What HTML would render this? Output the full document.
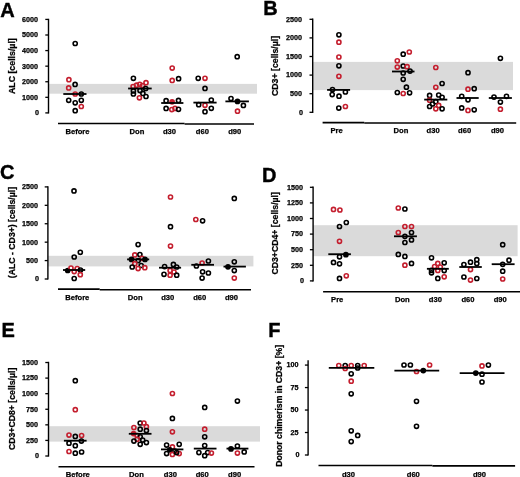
<!DOCTYPE html>
<html><head><meta charset="utf-8"><title>Figure</title>
<style>
html,body{margin:0;padding:0;background:#fff;}
body{width:520px;height:477px;overflow:hidden;}
svg{display:block;will-change:transform;}
text{font-family:"Liberation Sans",sans-serif;font-weight:bold;fill:#000;stroke:#000;stroke-width:0.25px;}
.tk{font-size:7.2px;text-anchor:end;}
.ct{font-size:7.6px;text-anchor:middle;}
.yl{font-size:8.2px;text-anchor:middle;}
.lt{font-size:20px;stroke-width:0.4px;}
circle{fill:none;stroke-width:1.6;}
</style></head>
<body>
<svg width="520" height="477" viewBox="0 0 520 477">
<rect width="520" height="477" fill="#fff"/>
<rect x="48.5" y="83.9" width="208.5" height="9.8" fill="#dadada"/>
<line x1="48.5" y1="18.8" x2="48.5" y2="113.5" stroke="#000" stroke-width="1.4"/>
<line x1="45.3" y1="112.9" x2="48.5" y2="112.9" stroke="#000" stroke-width="1.3"/>
<text x="38.9" y="115.25" class="tk">0</text>
<line x1="45.3" y1="97.32" x2="48.5" y2="97.32" stroke="#000" stroke-width="1.3"/>
<text x="38" y="99.67" class="tk">1000</text>
<line x1="45.3" y1="81.74" x2="48.5" y2="81.74" stroke="#000" stroke-width="1.3"/>
<text x="38" y="84.09" class="tk">2000</text>
<line x1="45.3" y1="66.16" x2="48.5" y2="66.16" stroke="#000" stroke-width="1.3"/>
<text x="38" y="68.51" class="tk">3000</text>
<line x1="45.3" y1="50.58" x2="48.5" y2="50.58" stroke="#000" stroke-width="1.3"/>
<text x="38" y="52.93" class="tk">4000</text>
<line x1="45.3" y1="35" x2="48.5" y2="35" stroke="#000" stroke-width="1.3"/>
<text x="38" y="37.35" class="tk">5000</text>
<line x1="45.3" y1="19.42" x2="48.5" y2="19.42" stroke="#000" stroke-width="1.3"/>
<text x="38" y="21.77" class="tk">6000</text>
<text class="yl" transform="translate(14.9,66.15) rotate(-90)" x="0" y="0" textLength="55.9" lengthAdjust="spacingAndGlyphs">ALC [cells/µl]</text>
<text class="lt" x="0.2" y="17.4">A</text>
<line x1="58" y1="123.45" x2="184.6" y2="123.45" stroke="#000" stroke-width="1.6"/>
<line x1="184.6" y1="123.95" x2="254" y2="123.95" stroke="#000" stroke-width="1.6"/>
<text class="ct" x="77.5" y="134.3">Before</text>
<text class="ct" x="137" y="134.3">Don</text>
<text class="ct" x="169.5" y="134.3">d30</text>
<text class="ct" x="202.4" y="134.3">d60</text>
<text class="ct" x="234.7" y="134.3">d90</text>
<circle cx="75.2" cy="43.5" r="2.05" stroke="#000"/>
<circle cx="68.9" cy="79.7" r="2.05" stroke="#c41e2e"/>
<circle cx="75.1" cy="84.4" r="2.05" stroke="#000"/>
<circle cx="68.7" cy="87.9" r="2.05" stroke="#c41e2e"/>
<circle cx="75.2" cy="94" r="2.05" stroke="#c41e2e"/>
<circle cx="81.3" cy="94" r="2.05" stroke="#000"/>
<circle cx="68.7" cy="100.3" r="2.05" stroke="#000"/>
<circle cx="75.2" cy="102.8" r="2.05" stroke="#000"/>
<circle cx="81.3" cy="100.3" r="2.05" stroke="#000"/>
<circle cx="81.3" cy="106.5" r="2.05" stroke="#c41e2e"/>
<circle cx="75.2" cy="110.7" r="2.05" stroke="#000"/>
<circle cx="133.4" cy="78.3" r="2.05" stroke="#000"/>
<circle cx="146" cy="82.7" r="2.05" stroke="#c41e2e"/>
<circle cx="133.1" cy="86.5" r="2.05" stroke="#c41e2e"/>
<circle cx="136.6" cy="85.2" r="2.05" stroke="#c41e2e"/>
<circle cx="139.7" cy="84.3" r="2.05" stroke="#c41e2e"/>
<circle cx="142.6" cy="85.5" r="2.05" stroke="#c41e2e"/>
<circle cx="145.7" cy="88.5" r="2.05" stroke="#000"/>
<circle cx="133.4" cy="90.9" r="2.05" stroke="#000"/>
<circle cx="133.4" cy="94" r="2.05" stroke="#000"/>
<circle cx="140" cy="90.6" r="2.05" stroke="#000"/>
<circle cx="142.9" cy="93.4" r="2.05" stroke="#000"/>
<circle cx="146" cy="96.5" r="2.05" stroke="#000"/>
<circle cx="139.4" cy="97.8" r="2.05" stroke="#c41e2e"/>
<circle cx="172.2" cy="68.1" r="2.05" stroke="#c41e2e"/>
<circle cx="172.2" cy="80.4" r="2.05" stroke="#c41e2e"/>
<circle cx="178.6" cy="78.7" r="2.05" stroke="#000"/>
<circle cx="166.1" cy="100.7" r="2.05" stroke="#000"/>
<circle cx="178.5" cy="100.4" r="2.05" stroke="#000"/>
<circle cx="172.1" cy="101.8" r="2.05" stroke="#c41e2e" style="fill:#c41e2e"/>
<circle cx="166.1" cy="108.4" r="2.05" stroke="#000"/>
<circle cx="171.8" cy="109.6" r="2.05" stroke="#c41e2e"/>
<circle cx="175" cy="108.4" r="2.05" stroke="#c41e2e"/>
<circle cx="178.5" cy="109.3" r="2.05" stroke="#000"/>
<circle cx="198.2" cy="78.3" r="2.05" stroke="#000"/>
<circle cx="205" cy="78.3" r="2.05" stroke="#c41e2e"/>
<circle cx="205" cy="88.4" r="2.05" stroke="#000"/>
<circle cx="211.3" cy="100" r="2.05" stroke="#000"/>
<circle cx="198.7" cy="104.7" r="2.05" stroke="#000"/>
<circle cx="205" cy="105.3" r="2.05" stroke="#c41e2e"/>
<circle cx="211.3" cy="108.3" r="2.05" stroke="#000"/>
<circle cx="205" cy="111.7" r="2.05" stroke="#000"/>
<circle cx="237.2" cy="56.7" r="2.05" stroke="#000"/>
<circle cx="231" cy="98.6" r="2.05" stroke="#000"/>
<circle cx="237.5" cy="101.4" r="2.05" stroke="#000" style="fill:#000"/>
<circle cx="243.4" cy="105.4" r="2.05" stroke="#000"/>
<circle cx="237.5" cy="111.2" r="2.05" stroke="#c41e2e"/>
<line x1="63.3" y1="94" x2="86.5" y2="94" stroke="#000" stroke-width="1.8"/>
<line x1="128.1" y1="88.5" x2="151.7" y2="88.5" stroke="#000" stroke-width="1.8"/>
<line x1="161.2" y1="103" x2="183.4" y2="103" stroke="#000" stroke-width="1.8"/>
<line x1="193.4" y1="102.6" x2="216.6" y2="102.6" stroke="#000" stroke-width="1.8"/>
<line x1="225.4" y1="101.4" x2="248.9" y2="101.4" stroke="#000" stroke-width="1.8"/>
<rect x="312.7" y="61.9" width="200.3" height="28.2" fill="#dadada"/>
<line x1="312.7" y1="18.6" x2="312.7" y2="112.9" stroke="#000" stroke-width="1.4"/>
<line x1="309.5" y1="112.3" x2="312.7" y2="112.3" stroke="#000" stroke-width="1.3"/>
<text x="302.9" y="114.65" class="tk">0</text>
<line x1="309.5" y1="93.7" x2="312.7" y2="93.7" stroke="#000" stroke-width="1.3"/>
<text x="302" y="96.05" class="tk">500</text>
<line x1="309.5" y1="75.1" x2="312.7" y2="75.1" stroke="#000" stroke-width="1.3"/>
<text x="302" y="77.45" class="tk">1000</text>
<line x1="309.5" y1="56.5" x2="312.7" y2="56.5" stroke="#000" stroke-width="1.3"/>
<text x="302" y="58.85" class="tk">1500</text>
<line x1="309.5" y1="37.9" x2="312.7" y2="37.9" stroke="#000" stroke-width="1.3"/>
<text x="302" y="40.25" class="tk">2000</text>
<line x1="309.5" y1="19.3" x2="312.7" y2="19.3" stroke="#000" stroke-width="1.3"/>
<text x="302" y="21.65" class="tk">2500</text>
<text class="yl" transform="translate(277.5,65.95) rotate(-90)" x="0" y="0" textLength="60.3" lengthAdjust="spacingAndGlyphs">CD3+ [cells/µl]</text>
<text class="lt" x="263.2" y="14.5">B</text>
<line x1="322.6" y1="122.6" x2="364.3" y2="122.6" stroke="#000" stroke-width="1.6"/>
<line x1="364.3" y1="123" x2="516.2" y2="123" stroke="#000" stroke-width="1.6"/>
<text class="ct" x="336.5" y="133.4">Pre</text>
<text class="ct" x="401" y="133.4">Don</text>
<text class="ct" x="433.1" y="133.4">d30</text>
<text class="ct" x="464.6" y="133.4">d60</text>
<text class="ct" x="497.5" y="133.4">d90</text>
<circle cx="338.9" cy="34.8" r="2.05" stroke="#000"/>
<circle cx="338.9" cy="42.2" r="2.05" stroke="#c41e2e"/>
<circle cx="338.9" cy="57" r="2.05" stroke="#c41e2e"/>
<circle cx="338.9" cy="65.8" r="2.05" stroke="#000"/>
<circle cx="338.9" cy="76.3" r="2.05" stroke="#c41e2e"/>
<circle cx="332.5" cy="89.5" r="2.05" stroke="#000"/>
<circle cx="332.2" cy="94.6" r="2.05" stroke="#000"/>
<circle cx="339" cy="96.2" r="2.05" stroke="#000"/>
<circle cx="345.4" cy="92" r="2.05" stroke="#000"/>
<circle cx="338.8" cy="108.1" r="2.05" stroke="#000"/>
<circle cx="345.4" cy="106.5" r="2.05" stroke="#c41e2e"/>
<circle cx="409.3" cy="52" r="2.05" stroke="#c41e2e"/>
<circle cx="403.2" cy="54.2" r="2.05" stroke="#000"/>
<circle cx="397.3" cy="60.8" r="2.05" stroke="#c41e2e"/>
<circle cx="403.2" cy="66" r="2.05" stroke="#000"/>
<circle cx="397.3" cy="67.1" r="2.05" stroke="#c41e2e"/>
<circle cx="407.1" cy="66.7" r="2.05" stroke="#c41e2e"/>
<circle cx="403.2" cy="73" r="2.05" stroke="#000"/>
<circle cx="410" cy="71.1" r="2.05" stroke="#000"/>
<circle cx="403.2" cy="79.3" r="2.05" stroke="#000"/>
<circle cx="406.4" cy="87.2" r="2.05" stroke="#000"/>
<circle cx="397.3" cy="92.5" r="2.05" stroke="#000"/>
<circle cx="403.2" cy="93.5" r="2.05" stroke="#c41e2e"/>
<circle cx="409.6" cy="92.8" r="2.05" stroke="#000"/>
<circle cx="435.8" cy="67.5" r="2.05" stroke="#c41e2e"/>
<circle cx="435.8" cy="87.3" r="2.05" stroke="#c41e2e"/>
<circle cx="442.1" cy="83.5" r="2.05" stroke="#000"/>
<circle cx="429.6" cy="95.4" r="2.05" stroke="#000"/>
<circle cx="438.7" cy="95" r="2.05" stroke="#000"/>
<circle cx="442.1" cy="97.3" r="2.05" stroke="#000"/>
<circle cx="429.6" cy="100.2" r="2.05" stroke="#c41e2e"/>
<circle cx="435.8" cy="101.7" r="2.05" stroke="#000"/>
<circle cx="432.5" cy="104" r="2.05" stroke="#000"/>
<circle cx="429.6" cy="106.5" r="2.05" stroke="#000"/>
<circle cx="438.7" cy="105.4" r="2.05" stroke="#c41e2e"/>
<circle cx="435.8" cy="108.8" r="2.05" stroke="#c41e2e"/>
<circle cx="442.1" cy="108.8" r="2.05" stroke="#000"/>
<circle cx="468" cy="72.7" r="2.05" stroke="#000"/>
<circle cx="468" cy="89.2" r="2.05" stroke="#c41e2e"/>
<circle cx="474.2" cy="88.7" r="2.05" stroke="#000"/>
<circle cx="461.7" cy="96.3" r="2.05" stroke="#000"/>
<circle cx="468" cy="99.8" r="2.05" stroke="#000"/>
<circle cx="461.7" cy="107.9" r="2.05" stroke="#000"/>
<circle cx="468" cy="110.4" r="2.05" stroke="#c41e2e"/>
<circle cx="474.2" cy="109.8" r="2.05" stroke="#000"/>
<circle cx="500.4" cy="58.3" r="2.05" stroke="#000"/>
<circle cx="494" cy="97.1" r="2.05" stroke="#000"/>
<circle cx="506.5" cy="96.3" r="2.05" stroke="#000"/>
<circle cx="500.4" cy="102.1" r="2.05" stroke="#000"/>
<circle cx="500.4" cy="109.2" r="2.05" stroke="#c41e2e"/>
<line x1="327.1" y1="89.9" x2="350.1" y2="89.9" stroke="#000" stroke-width="1.8"/>
<line x1="392" y1="71.5" x2="414.5" y2="71.5" stroke="#000" stroke-width="1.8"/>
<line x1="424.2" y1="99.6" x2="447.3" y2="99.6" stroke="#000" stroke-width="1.8"/>
<line x1="456.5" y1="98" x2="478.7" y2="98" stroke="#000" stroke-width="1.8"/>
<line x1="488.8" y1="98" x2="511.9" y2="98" stroke="#000" stroke-width="1.8"/>
<rect x="47.9" y="255.8" width="205.5" height="10.6" fill="#dadada"/>
<line x1="47.9" y1="186.2" x2="47.9" y2="279.6" stroke="#000" stroke-width="1.4"/>
<line x1="44.7" y1="279" x2="47.9" y2="279" stroke="#000" stroke-width="1.3"/>
<text x="38.9" y="281.35" class="tk">0</text>
<line x1="44.7" y1="260.58" x2="47.9" y2="260.58" stroke="#000" stroke-width="1.3"/>
<text x="38" y="262.93" class="tk">500</text>
<line x1="44.7" y1="242.16" x2="47.9" y2="242.16" stroke="#000" stroke-width="1.3"/>
<text x="38" y="244.51" class="tk">1000</text>
<line x1="44.7" y1="223.74" x2="47.9" y2="223.74" stroke="#000" stroke-width="1.3"/>
<text x="38" y="226.09" class="tk">1500</text>
<line x1="44.7" y1="205.32" x2="47.9" y2="205.32" stroke="#000" stroke-width="1.3"/>
<text x="38" y="207.67" class="tk">2000</text>
<line x1="44.7" y1="186.9" x2="47.9" y2="186.9" stroke="#000" stroke-width="1.3"/>
<text x="38" y="189.25" class="tk">2500</text>
<text class="yl" transform="translate(15.2,232.55) rotate(-90)" x="0" y="0" textLength="91.3" lengthAdjust="spacingAndGlyphs">(ALC - CD3+) [cells/µl]</text>
<text class="lt" x="0" y="179">C</text>
<line x1="58" y1="289.1" x2="99.7" y2="289.1" stroke="#000" stroke-width="1.6"/>
<line x1="99.7" y1="289.75" x2="251" y2="289.75" stroke="#000" stroke-width="1.6"/>
<text class="ct" x="77.3" y="300">Before</text>
<text class="ct" x="135.2" y="300">Don</text>
<text class="ct" x="167.7" y="300">d30</text>
<text class="ct" x="199.7" y="300">d60</text>
<text class="ct" x="231.5" y="300">d90</text>
<circle cx="74" cy="190.9" r="2.05" stroke="#000"/>
<circle cx="80.3" cy="252.3" r="2.05" stroke="#000"/>
<circle cx="74.2" cy="257" r="2.05" stroke="#000"/>
<circle cx="67.7" cy="270.5" r="2.05" stroke="#000" style="fill:#000"/>
<circle cx="71" cy="268.1" r="2.05" stroke="#c41e2e"/>
<circle cx="74.2" cy="271.6" r="2.05" stroke="#c41e2e"/>
<circle cx="77.2" cy="268.5" r="2.05" stroke="#c41e2e"/>
<circle cx="80.5" cy="270" r="2.05" stroke="#000"/>
<circle cx="80.3" cy="274.7" r="2.05" stroke="#c41e2e"/>
<circle cx="74.2" cy="278.5" r="2.05" stroke="#000"/>
<circle cx="138.1" cy="244.6" r="2.05" stroke="#000"/>
<circle cx="134.8" cy="254.9" r="2.05" stroke="#c41e2e"/>
<circle cx="139.9" cy="254.5" r="2.05" stroke="#000"/>
<circle cx="131.5" cy="259.4" r="2.05" stroke="#000" style="fill:#000"/>
<circle cx="142" cy="258.3" r="2.05" stroke="#c41e2e"/>
<circle cx="138.2" cy="260.6" r="2.05" stroke="#000"/>
<circle cx="145" cy="259.4" r="2.05" stroke="#000" style="fill:#000"/>
<circle cx="134.8" cy="263.7" r="2.05" stroke="#c41e2e"/>
<circle cx="141.2" cy="265.5" r="2.05" stroke="#000"/>
<circle cx="132.2" cy="267" r="2.05" stroke="#000"/>
<circle cx="138.1" cy="268.6" r="2.05" stroke="#c41e2e"/>
<circle cx="144.8" cy="267.7" r="2.05" stroke="#c41e2e"/>
<circle cx="170.5" cy="197" r="2.05" stroke="#c41e2e"/>
<circle cx="170.5" cy="226.7" r="2.05" stroke="#000"/>
<circle cx="170.5" cy="246.1" r="2.05" stroke="#c41e2e"/>
<circle cx="164.6" cy="266.6" r="2.05" stroke="#000"/>
<circle cx="173.4" cy="264.4" r="2.05" stroke="#000"/>
<circle cx="176.7" cy="267" r="2.05" stroke="#000"/>
<circle cx="170.1" cy="270.4" r="2.05" stroke="#c41e2e"/>
<circle cx="174" cy="272" r="2.05" stroke="#c41e2e"/>
<circle cx="164" cy="274.3" r="2.05" stroke="#000"/>
<circle cx="170.1" cy="275.2" r="2.05" stroke="#c41e2e"/>
<circle cx="176.7" cy="275.2" r="2.05" stroke="#000"/>
<circle cx="195.8" cy="219.5" r="2.05" stroke="#c41e2e"/>
<circle cx="202.6" cy="220.8" r="2.05" stroke="#000"/>
<circle cx="196.4" cy="266" r="2.05" stroke="#000"/>
<circle cx="202.1" cy="263" r="2.05" stroke="#c41e2e"/>
<circle cx="208.4" cy="261" r="2.05" stroke="#000"/>
<circle cx="202.6" cy="271.8" r="2.05" stroke="#000"/>
<circle cx="208.4" cy="273" r="2.05" stroke="#000"/>
<circle cx="202.1" cy="278.1" r="2.05" stroke="#000"/>
<circle cx="234.3" cy="198.4" r="2.05" stroke="#000"/>
<circle cx="234.3" cy="261.8" r="2.05" stroke="#000"/>
<circle cx="228" cy="266.8" r="2.05" stroke="#000" style="fill:#000"/>
<circle cx="234.3" cy="270.6" r="2.05" stroke="#000"/>
<circle cx="234.3" cy="278.1" r="2.05" stroke="#c41e2e"/>
<line x1="63" y1="270" x2="85.2" y2="270" stroke="#000" stroke-width="1.8"/>
<line x1="127.1" y1="259.4" x2="149.2" y2="259.4" stroke="#000" stroke-width="1.8"/>
<line x1="159" y1="267.7" x2="181.1" y2="267.7" stroke="#000" stroke-width="1.8"/>
<line x1="191.3" y1="264.8" x2="214" y2="264.8" stroke="#000" stroke-width="1.8"/>
<line x1="223.5" y1="266.6" x2="245.9" y2="266.6" stroke="#000" stroke-width="1.8"/>
<rect x="313.1" y="225.2" width="204.5" height="31" fill="#dadada"/>
<line x1="313.1" y1="186.6" x2="313.1" y2="281.5" stroke="#000" stroke-width="1.4"/>
<line x1="309.9" y1="280.9" x2="313.1" y2="280.9" stroke="#000" stroke-width="1.3"/>
<text x="303.9" y="283.25" class="tk">0</text>
<line x1="309.9" y1="265.3" x2="313.1" y2="265.3" stroke="#000" stroke-width="1.3"/>
<text x="303" y="267.65" class="tk">250</text>
<line x1="309.9" y1="249.7" x2="313.1" y2="249.7" stroke="#000" stroke-width="1.3"/>
<text x="303" y="252.05" class="tk">500</text>
<line x1="309.9" y1="234.1" x2="313.1" y2="234.1" stroke="#000" stroke-width="1.3"/>
<text x="303" y="236.45" class="tk">750</text>
<line x1="309.9" y1="218.5" x2="313.1" y2="218.5" stroke="#000" stroke-width="1.3"/>
<text x="303" y="220.85" class="tk">1000</text>
<line x1="309.9" y1="202.9" x2="313.1" y2="202.9" stroke="#000" stroke-width="1.3"/>
<text x="303" y="205.25" class="tk">1250</text>
<line x1="309.9" y1="187.3" x2="313.1" y2="187.3" stroke="#000" stroke-width="1.3"/>
<text x="303" y="189.65" class="tk">1500</text>
<text class="yl" transform="translate(277.5,233.35) rotate(-90)" x="0" y="0" textLength="82.5" lengthAdjust="spacingAndGlyphs">CD3+CD4+ [cells/µl]</text>
<text class="lt" x="262" y="182.3">D</text>
<line x1="323.1" y1="291.8" x2="520" y2="291.8" stroke="#000" stroke-width="1.6"/>
<text class="ct" x="337.2" y="301.9">Pre</text>
<text class="ct" x="402.3" y="301.9">Don</text>
<text class="ct" x="435.4" y="301.9">d30</text>
<text class="ct" x="468" y="301.9">d60</text>
<text class="ct" x="500.2" y="301.9">d90</text>
<circle cx="333.5" cy="209.4" r="2.05" stroke="#c41e2e"/>
<circle cx="339.9" cy="210" r="2.05" stroke="#c41e2e"/>
<circle cx="346.3" cy="222.5" r="2.05" stroke="#000"/>
<circle cx="339.5" cy="226.5" r="2.05" stroke="#000"/>
<circle cx="339.5" cy="241.3" r="2.05" stroke="#c41e2e"/>
<circle cx="345.9" cy="254.7" r="2.05" stroke="#000" style="fill:#000"/>
<circle cx="339.5" cy="256.8" r="2.05" stroke="#000"/>
<circle cx="333.5" cy="262.4" r="2.05" stroke="#000"/>
<circle cx="339.5" cy="263.8" r="2.05" stroke="#000"/>
<circle cx="339.5" cy="278.4" r="2.05" stroke="#000"/>
<circle cx="346.3" cy="275.8" r="2.05" stroke="#c41e2e"/>
<circle cx="398.3" cy="208" r="2.05" stroke="#c41e2e"/>
<circle cx="404.9" cy="209" r="2.05" stroke="#000"/>
<circle cx="404.9" cy="226.5" r="2.05" stroke="#c41e2e"/>
<circle cx="411.5" cy="226.5" r="2.05" stroke="#c41e2e"/>
<circle cx="398.3" cy="232.5" r="2.05" stroke="#c41e2e"/>
<circle cx="411.5" cy="232.5" r="2.05" stroke="#000"/>
<circle cx="404.9" cy="236.3" r="2.05" stroke="#000"/>
<circle cx="411.5" cy="239.9" r="2.05" stroke="#000"/>
<circle cx="404.9" cy="242.5" r="2.05" stroke="#000"/>
<circle cx="398.3" cy="254.4" r="2.05" stroke="#000"/>
<circle cx="404.9" cy="256.4" r="2.05" stroke="#000"/>
<circle cx="404.9" cy="265.2" r="2.05" stroke="#c41e2e"/>
<circle cx="411.5" cy="263.4" r="2.05" stroke="#000"/>
<circle cx="431.5" cy="257.8" r="2.05" stroke="#000"/>
<circle cx="437.8" cy="263.4" r="2.05" stroke="#c41e2e"/>
<circle cx="444.2" cy="262.8" r="2.05" stroke="#000"/>
<circle cx="434.6" cy="266.6" r="2.05" stroke="#c41e2e"/>
<circle cx="440.3" cy="267" r="2.05" stroke="#c41e2e"/>
<circle cx="431.5" cy="270.3" r="2.05" stroke="#000"/>
<circle cx="431.5" cy="272.8" r="2.05" stroke="#000"/>
<circle cx="437.8" cy="270.4" r="2.05" stroke="#c41e2e"/>
<circle cx="444.2" cy="270.6" r="2.05" stroke="#000"/>
<circle cx="444.2" cy="276.8" r="2.05" stroke="#c41e2e"/>
<circle cx="437.8" cy="278.4" r="2.05" stroke="#000"/>
<circle cx="476.8" cy="259.7" r="2.05" stroke="#000"/>
<circle cx="470.5" cy="262.2" r="2.05" stroke="#000"/>
<circle cx="476.8" cy="263.6" r="2.05" stroke="#000"/>
<circle cx="463.9" cy="264.6" r="2.05" stroke="#000"/>
<circle cx="470.5" cy="269.6" r="2.05" stroke="#c41e2e"/>
<circle cx="463.9" cy="277" r="2.05" stroke="#000"/>
<circle cx="470.5" cy="280.1" r="2.05" stroke="#c41e2e"/>
<circle cx="476.8" cy="278.5" r="2.05" stroke="#000"/>
<circle cx="502.7" cy="244.7" r="2.05" stroke="#000"/>
<circle cx="509" cy="260.2" r="2.05" stroke="#000"/>
<circle cx="502.7" cy="264.3" r="2.05" stroke="#000"/>
<circle cx="502.7" cy="271.2" r="2.05" stroke="#000"/>
<circle cx="502.7" cy="279" r="2.05" stroke="#c41e2e"/>
<line x1="328.3" y1="254.2" x2="350.9" y2="254.2" stroke="#000" stroke-width="1.8"/>
<line x1="394" y1="236.3" x2="416.9" y2="236.3" stroke="#000" stroke-width="1.8"/>
<line x1="426.9" y1="268.8" x2="448.8" y2="268.8" stroke="#000" stroke-width="1.8"/>
<line x1="459.3" y1="267" x2="481.8" y2="267" stroke="#000" stroke-width="1.8"/>
<line x1="491.7" y1="264.2" x2="514.6" y2="264.2" stroke="#000" stroke-width="1.8"/>
<rect x="48.5" y="426.2" width="211.5" height="15.4" fill="#dadada"/>
<line x1="48.5" y1="361.8" x2="48.5" y2="456.6" stroke="#000" stroke-width="1.4"/>
<line x1="45.3" y1="456" x2="48.5" y2="456" stroke="#000" stroke-width="1.3"/>
<text x="38.9" y="458.35" class="tk">0</text>
<line x1="45.3" y1="440.42" x2="48.5" y2="440.42" stroke="#000" stroke-width="1.3"/>
<text x="38" y="442.77" class="tk">250</text>
<line x1="45.3" y1="424.84" x2="48.5" y2="424.84" stroke="#000" stroke-width="1.3"/>
<text x="38" y="427.19" class="tk">500</text>
<line x1="45.3" y1="409.26" x2="48.5" y2="409.26" stroke="#000" stroke-width="1.3"/>
<text x="38" y="411.61" class="tk">750</text>
<line x1="45.3" y1="393.68" x2="48.5" y2="393.68" stroke="#000" stroke-width="1.3"/>
<text x="38" y="396.03" class="tk">1000</text>
<line x1="45.3" y1="378.1" x2="48.5" y2="378.1" stroke="#000" stroke-width="1.3"/>
<text x="38" y="380.45" class="tk">1250</text>
<line x1="45.3" y1="362.52" x2="48.5" y2="362.52" stroke="#000" stroke-width="1.3"/>
<text x="38" y="364.87" class="tk">1500</text>
<text class="yl" transform="translate(14.8,408.9) rotate(-90)" x="0" y="0" textLength="82.4" lengthAdjust="spacingAndGlyphs">CD3+CD8+ [cells/µl]</text>
<text class="lt" x="1.5" y="337">E</text>
<line x1="58.5" y1="466.7" x2="254.5" y2="466.7" stroke="#000" stroke-width="1.6"/>
<text class="ct" x="77.8" y="477">Before</text>
<text class="ct" x="136.5" y="477">Don</text>
<text class="ct" x="170.4" y="477">d30</text>
<text class="ct" x="202.2" y="477">d60</text>
<text class="ct" x="234.6" y="477">d90</text>
<circle cx="75.3" cy="380.7" r="2.05" stroke="#000"/>
<circle cx="75.3" cy="409.7" r="2.05" stroke="#c41e2e"/>
<circle cx="69" cy="435.1" r="2.05" stroke="#c41e2e"/>
<circle cx="75.3" cy="436.4" r="2.05" stroke="#000"/>
<circle cx="81.6" cy="435.6" r="2.05" stroke="#c41e2e"/>
<circle cx="81.4" cy="441.1" r="2.05" stroke="#000"/>
<circle cx="69" cy="443.2" r="2.05" stroke="#000"/>
<circle cx="75.3" cy="445.7" r="2.05" stroke="#000"/>
<circle cx="69" cy="451.5" r="2.05" stroke="#c41e2e"/>
<circle cx="75.3" cy="453.2" r="2.05" stroke="#000"/>
<circle cx="81.6" cy="452" r="2.05" stroke="#000"/>
<circle cx="140.2" cy="423" r="2.05" stroke="#000"/>
<circle cx="143.9" cy="423" r="2.05" stroke="#c41e2e"/>
<circle cx="133.9" cy="427.5" r="2.05" stroke="#c41e2e"/>
<circle cx="140.2" cy="429.2" r="2.05" stroke="#000"/>
<circle cx="146.4" cy="426.7" r="2.05" stroke="#c41e2e"/>
<circle cx="146.4" cy="430.5" r="2.05" stroke="#000"/>
<circle cx="133.6" cy="433.6" r="2.05" stroke="#c41e2e" style="fill:#c41e2e"/>
<circle cx="137.1" cy="435.5" r="2.05" stroke="#c41e2e"/>
<circle cx="140.2" cy="436.8" r="2.05" stroke="#000"/>
<circle cx="137.1" cy="439.3" r="2.05" stroke="#c41e2e"/>
<circle cx="133.9" cy="441.1" r="2.05" stroke="#000"/>
<circle cx="142.7" cy="440.1" r="2.05" stroke="#000"/>
<circle cx="146.4" cy="442.6" r="2.05" stroke="#000"/>
<circle cx="140.2" cy="444.3" r="2.05" stroke="#000"/>
<circle cx="172.4" cy="393.5" r="2.05" stroke="#c41e2e"/>
<circle cx="172.4" cy="418.4" r="2.05" stroke="#000"/>
<circle cx="172.4" cy="431.8" r="2.05" stroke="#c41e2e"/>
<circle cx="166.6" cy="445.1" r="2.05" stroke="#000"/>
<circle cx="179.2" cy="444.3" r="2.05" stroke="#000"/>
<circle cx="172.4" cy="446.9" r="2.05" stroke="#c41e2e"/>
<circle cx="169.8" cy="449.8" r="2.05" stroke="#000" style="fill:#000"/>
<circle cx="174.9" cy="451.1" r="2.05" stroke="#000"/>
<circle cx="166.6" cy="453.6" r="2.05" stroke="#000"/>
<circle cx="172.4" cy="454.4" r="2.05" stroke="#c41e2e"/>
<circle cx="179.2" cy="453.6" r="2.05" stroke="#c41e2e"/>
<circle cx="176.6" cy="452.6" r="2.05" stroke="#000"/>
<circle cx="204.7" cy="407.4" r="2.05" stroke="#000"/>
<circle cx="204.7" cy="429.2" r="2.05" stroke="#c41e2e"/>
<circle cx="204.7" cy="436.8" r="2.05" stroke="#000"/>
<circle cx="204.7" cy="445.6" r="2.05" stroke="#000"/>
<circle cx="198.9" cy="452.6" r="2.05" stroke="#000"/>
<circle cx="207.7" cy="452.6" r="2.05" stroke="#000"/>
<circle cx="211.4" cy="453.1" r="2.05" stroke="#c41e2e"/>
<circle cx="204.7" cy="455.7" r="2.05" stroke="#000"/>
<circle cx="237.4" cy="401.1" r="2.05" stroke="#000"/>
<circle cx="237.4" cy="446.1" r="2.05" stroke="#000"/>
<circle cx="231" cy="448.9" r="2.05" stroke="#000" style="fill:#000"/>
<circle cx="237.4" cy="453.1" r="2.05" stroke="#c41e2e"/>
<circle cx="244.2" cy="451.9" r="2.05" stroke="#000"/>
<line x1="63.9" y1="440.7" x2="86.6" y2="440.7" stroke="#000" stroke-width="1.8"/>
<line x1="128.8" y1="433.8" x2="151.5" y2="433.8" stroke="#000" stroke-width="1.8"/>
<line x1="161" y1="449.4" x2="183.4" y2="449.4" stroke="#000" stroke-width="1.8"/>
<line x1="193.8" y1="448.6" x2="216.5" y2="448.6" stroke="#000" stroke-width="1.8"/>
<line x1="226.5" y1="448.6" x2="248.4" y2="448.6" stroke="#000" stroke-width="1.8"/>
<line x1="308.1" y1="360.3" x2="308.1" y2="455.6" stroke="#000" stroke-width="1.4"/>
<line x1="304.9" y1="455" x2="308.1" y2="455" stroke="#000" stroke-width="1.3"/>
<text x="299.5" y="457.35" class="tk">0</text>
<line x1="304.9" y1="432.52" x2="308.1" y2="432.52" stroke="#000" stroke-width="1.3"/>
<text x="298.6" y="434.87" class="tk">25</text>
<line x1="304.9" y1="410.04" x2="308.1" y2="410.04" stroke="#000" stroke-width="1.3"/>
<text x="298.6" y="412.39" class="tk">50</text>
<line x1="304.9" y1="387.56" x2="308.1" y2="387.56" stroke="#000" stroke-width="1.3"/>
<text x="298.6" y="389.91" class="tk">75</text>
<line x1="304.9" y1="365.08" x2="308.1" y2="365.08" stroke="#000" stroke-width="1.3"/>
<text x="298.6" y="367.43" class="tk">100</text>
<text class="yl" transform="translate(281.6,405.85) rotate(-90)" x="0" y="0" textLength="121.9" lengthAdjust="spacingAndGlyphs">Donor chimerism in CD3+ [%]</text>
<text class="lt" x="268.3" y="337.3">F</text>
<line x1="318.5" y1="465.5" x2="432.4" y2="465.5" stroke="#000" stroke-width="1.6"/>
<line x1="432.4" y1="465.9" x2="515.1" y2="465.9" stroke="#000" stroke-width="1.6"/>
<text class="ct" x="348.5" y="476.6">d30</text>
<text class="ct" x="413.3" y="476.6">d60</text>
<text class="ct" x="479.5" y="476.6">d90</text>
<circle cx="338.8" cy="365.5" r="2.05" stroke="#c41e2e"/>
<circle cx="345.2" cy="365.5" r="2.05" stroke="#000"/>
<circle cx="351.2" cy="365.5" r="2.05" stroke="#c41e2e"/>
<circle cx="357.7" cy="365.5" r="2.05" stroke="#000"/>
<circle cx="364.2" cy="365.5" r="2.05" stroke="#c41e2e"/>
<circle cx="345.2" cy="368.5" r="2.05" stroke="#c41e2e"/>
<circle cx="357.7" cy="368" r="2.05" stroke="#000"/>
<circle cx="351.2" cy="373.8" r="2.05" stroke="#000"/>
<circle cx="351.2" cy="381.2" r="2.05" stroke="#c41e2e"/>
<circle cx="351.2" cy="393.8" r="2.05" stroke="#000"/>
<circle cx="351.2" cy="430.8" r="2.05" stroke="#000"/>
<circle cx="357.7" cy="435.4" r="2.05" stroke="#000"/>
<circle cx="351.2" cy="441.6" r="2.05" stroke="#000"/>
<circle cx="404" cy="365" r="2.05" stroke="#000"/>
<circle cx="410.4" cy="365" r="2.05" stroke="#000"/>
<circle cx="429.6" cy="365" r="2.05" stroke="#c41e2e"/>
<circle cx="416.5" cy="371.5" r="2.05" stroke="#c41e2e"/>
<circle cx="423.3" cy="370.6" r="2.05" stroke="#000" style="fill:#000"/>
<circle cx="416.5" cy="401.3" r="2.05" stroke="#000"/>
<circle cx="416.5" cy="426.3" r="2.05" stroke="#000"/>
<circle cx="482" cy="365.9" r="2.05" stroke="#c41e2e"/>
<circle cx="488.4" cy="365.1" r="2.05" stroke="#000"/>
<circle cx="475.8" cy="373.1" r="2.05" stroke="#000" style="fill:#000"/>
<circle cx="482" cy="374.2" r="2.05" stroke="#000"/>
<circle cx="482" cy="382" r="2.05" stroke="#000"/>
<line x1="328.8" y1="367.8" x2="374.3" y2="367.8" stroke="#000" stroke-width="1.8"/>
<line x1="394.4" y1="370.6" x2="439.2" y2="370.6" stroke="#000" stroke-width="1.8"/>
<line x1="459.7" y1="373.1" x2="504.5" y2="373.1" stroke="#000" stroke-width="1.8"/>
</svg>
</body></html>
